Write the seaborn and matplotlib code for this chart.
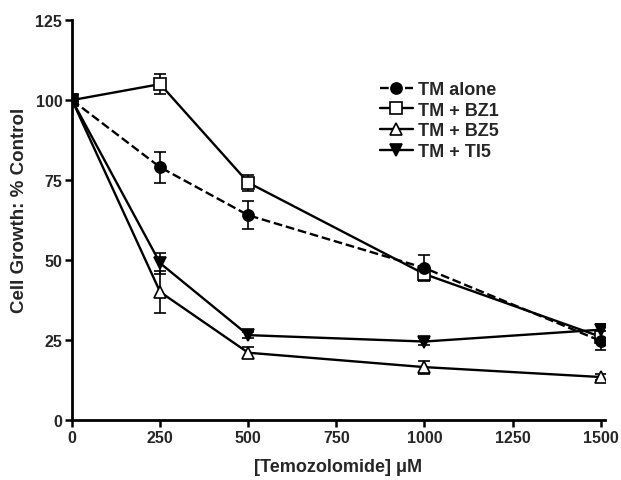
import numpy as np
import pandas as pd
import matplotlib.pyplot as plt
import seaborn as sns

# Data (mean +/- error)
dose = [0, 250, 500, 1000, 1500]
series_names = ["TM alone", "TM + BZ1", "TM + BZ5", "TM + TI5"]
tm_alone = [100, 79, 64, 47.5, 24.7]
tm_alone_err = [0, 4.8, 4.4, 4.2, 2.8]
tm_bz1 = [100, 105, 74.2, 45.6, 26]
tm_bz1_err = [0, 3.2, 2.5, 2.0, 1.5]
tm_bz5 = [100, 40, 21, 16.5, 13.4]
tm_bz5_err = [0, 6.5, 1.8, 2.0, 0.8]
tm_ti5 = [100, 49, 26.5, 24.5, 28.2]
tm_ti5_err = [0, 3.3, 1.0, 1.0, 1.8]
x_ticks = [0, 250, 500, 750, 1000, 1250, 1500]
y_ticks = [0, 25, 50, 75, 100, 125]

sns.set_style("ticks")
plt.rcParams['font.family'] = ['Liberation Sans', 'DejaVu Sans']
plt.rcParams['font.weight'] = 'bold'

values = [tm_alone, tm_bz1, tm_bz5, tm_ti5]
errors = [tm_alone_err, tm_bz1_err, tm_bz5_err, tm_ti5_err]
styles = [
    dict(marker='o', markerfacecolor='black', linestyle='--', dashes=(3.5, 2.5), markersize=8),
    dict(marker='s', markerfacecolor='white', linestyle='-', markersize=8),
    dict(marker='^', markerfacecolor='white', linestyle='-', markersize=9),
    dict(marker='v', markerfacecolor='black', linestyle='-', markersize=8.5),
]
# filled markers sit on top, as in the original
zorders = [6, 3, 4, 5]

fig = plt.figure(figsize=(6.21, 4.81), dpi=100)
ax = fig.add_axes([0.116, 0.125, 0.858, 0.831])

for name, vals, errs, st, z in zip(series_names, values, errors, styles, zorders):
    df = pd.DataFrame({"dose": dose, "growth": vals})
    sns.lineplot(data=df, x="dose", y="growth", ax=ax, color='black', lw=1.7,
                 markeredgecolor='black', markeredgewidth=1.2, label=name,
                 zorder=z, **st)
    ax.errorbar(dose, vals, yerr=errs, fmt='none', ecolor='black',
                elinewidth=1.2, capsize=4, capthick=1.2, zorder=2)

ax.set_xlim(0, 1512)
ax.set_ylim(0, 125)
ax.set_xticks(x_ticks)
ax.set_yticks(y_ticks)
ax.tick_params(axis='both', direction='out', length=5, width=1.8,
               labelsize=11.5, pad=2, color='black')
for lab in ax.get_xticklabels() + ax.get_yticklabels():
    lab.set_fontweight('bold')
for side in ['left', 'bottom']:
    ax.spines[side].set_linewidth(2)
    ax.spines[side].set_color('black')
sns.despine(ax=ax)

ax.set_xlabel("[Temozolomide] \u03bcM", fontsize=13, fontweight='bold', labelpad=10)
ax.set_ylabel("Cell Growth: % Control", fontsize=13.5, fontweight='bold')
ax.yaxis.set_label_coords(-0.082, 0.527)

ax.legend(loc='upper left', bbox_to_anchor=(380 / 621, 1 - 82 / 481),
          bbox_transform=fig.transFigure, frameon=False, fontsize=13,
          handlelength=1.8, handletextpad=0.3, labelspacing=0.2,
          borderpad=0, borderaxespad=0)

fig.savefig("out.png", dpi=100)
